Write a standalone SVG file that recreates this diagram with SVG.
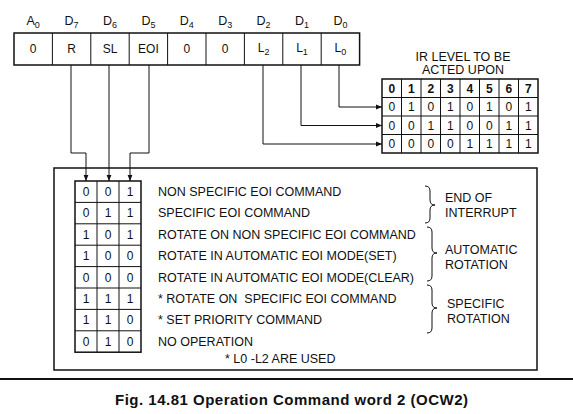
<svg xmlns="http://www.w3.org/2000/svg" width="573" height="414" viewBox="0 0 573 414">
<style>
text{font-family:"Liberation Sans",Arial,sans-serif;fill:#111;}
.lbl{font-size:12.5px;text-anchor:middle;}
.cell{font-size:12px;text-anchor:middle;}
.hd{font-size:12px;text-anchor:middle;font-weight:bold;}
.cmd{font-size:12.5px;}
.grp{font-size:12.5px;}
.box{fill:#fff;stroke:#111;stroke-width:1.5;}
.thin{stroke:#111;stroke-width:1;fill:none;}
.wire{stroke:#111;stroke-width:1;fill:none;}
.brace{stroke:#111;stroke-width:1;fill:none;}
</style>
<defs>
<marker id="arr" viewBox="0 0 10 10" refX="10" refY="5" markerWidth="6" markerHeight="6" orient="auto" markerUnits="userSpaceOnUse">
<path d="M0,1 L10,5 L0,9 Z" fill="#111"/>
</marker>
</defs>
<rect width="573" height="414" fill="#fff"/>

<g id="register">
<rect class="box" x="14" y="33" width="345.6" height="32" stroke-width="2"/>
<g class="thin">
<line x1="52.4" y1="33" x2="52.4" y2="65"/>
<line x1="90.8" y1="33" x2="90.8" y2="65"/>
<line x1="129.2" y1="33" x2="129.2" y2="65"/>
<line x1="167.6" y1="33" x2="167.6" y2="65"/>
<line x1="206" y1="33" x2="206" y2="65"/>
<line x1="244.4" y1="33" x2="244.4" y2="65"/>
<line x1="282.8" y1="33" x2="282.8" y2="65"/>
<line x1="321.2" y1="33" x2="321.2" y2="65"/>
</g>
<text class="lbl" x="33.2" y="25">A<tspan dy="3" font-size="9">0</tspan></text>
<text class="lbl" x="71.6" y="25">D<tspan dy="3" font-size="9">7</tspan></text>
<text class="lbl" x="110" y="25">D<tspan dy="3" font-size="9">6</tspan></text>
<text class="lbl" x="148.4" y="25">D<tspan dy="3" font-size="9">5</tspan></text>
<text class="lbl" x="186.8" y="25">D<tspan dy="3" font-size="9">4</tspan></text>
<text class="lbl" x="225.2" y="25">D<tspan dy="3" font-size="9">3</tspan></text>
<text class="lbl" x="263.6" y="25">D<tspan dy="3" font-size="9">2</tspan></text>
<text class="lbl" x="302" y="25">D<tspan dy="3" font-size="9">1</tspan></text>
<text class="lbl" x="340.4" y="25">D<tspan dy="3" font-size="9">0</tspan></text>
<text class="cell" x="33.2" y="53">0</text>
<text class="cell" x="71.6" y="53">R</text>
<text class="cell" x="110" y="53">SL</text>
<text class="cell" x="148.4" y="53">EOI</text>
<text class="cell" x="186.8" y="53">0</text>
<text class="cell" x="225.2" y="53">0</text>
<text class="cell" x="263.6" y="52">L<tspan dy="3" font-size="9">2</tspan></text>
<text class="cell" x="302" y="52">L<tspan dy="3" font-size="9">1</tspan></text>
<text class="cell" x="340.4" y="52">L<tspan dy="3" font-size="9">0</tspan></text>
</g>

<g id="ir-table">
<text class="lbl" x="463" y="61">IR LEVEL TO BE</text>
<text class="lbl" x="463" y="74">ACTED UPON</text>
<rect class="box" x="382" y="79" width="156" height="74" stroke-width="2"/>
<g class="thin">
<line x1="382" y1="97.5" x2="538" y2="97.5"/>
<line x1="382" y1="116" x2="538" y2="116"/>
<line x1="382" y1="134.5" x2="538" y2="134.5"/>
<line x1="401.5" y1="79" x2="401.5" y2="153"/>
<line x1="421" y1="79" x2="421" y2="153"/>
<line x1="440.5" y1="79" x2="440.5" y2="153"/>
<line x1="460" y1="79" x2="460" y2="153"/>
<line x1="479.5" y1="79" x2="479.5" y2="153"/>
<line x1="499" y1="79" x2="499" y2="153"/>
<line x1="518.5" y1="79" x2="518.5" y2="153"/>
</g>
<g class="hd">
<text x="391.75" y="92.5">0</text><text x="411.25" y="92.5">1</text><text x="430.75" y="92.5">2</text><text x="450.25" y="92.5">3</text><text x="469.75" y="92.5">4</text><text x="489.25" y="92.5">5</text><text x="508.75" y="92.5">6</text><text x="528.25" y="92.5">7</text>
</g>
<g class="cell">
<text x="391.75" y="111">0</text><text x="411.25" y="111">1</text><text x="430.75" y="111">0</text><text x="450.25" y="111">1</text><text x="469.75" y="111">0</text><text x="489.25" y="111">1</text><text x="508.75" y="111">0</text><text x="528.25" y="111">1</text>
<text x="391.75" y="129.5">0</text><text x="411.25" y="129.5">0</text><text x="430.75" y="129.5">1</text><text x="450.25" y="129.5">1</text><text x="469.75" y="129.5">0</text><text x="489.25" y="129.5">0</text><text x="508.75" y="129.5">1</text><text x="528.25" y="129.5">1</text>
<text x="391.75" y="148">0</text><text x="411.25" y="148">0</text><text x="430.75" y="148">0</text><text x="450.25" y="148">0</text><text x="469.75" y="148">1</text><text x="489.25" y="148">1</text><text x="508.75" y="148">1</text><text x="528.25" y="148">1</text>
</g>
</g>

<g id="command-box">
<rect class="box" x="54" y="168" width="483" height="202" stroke-width="1.3"/>
<rect class="box" x="75" y="181" width="66" height="171.2" stroke-width="2"/>
<g class="thin">
<line x1="97" y1="181" x2="97" y2="352.2"/>
<line x1="119" y1="181" x2="119" y2="352.2"/>
<line x1="75" y1="202.4" x2="141" y2="202.4"/>
<line x1="75" y1="223.8" x2="141" y2="223.8"/>
<line x1="75" y1="245.2" x2="141" y2="245.2"/>
<line x1="75" y1="266.6" x2="141" y2="266.6"/>
<line x1="75" y1="288" x2="141" y2="288"/>
<line x1="75" y1="309.4" x2="141" y2="309.4"/>
<line x1="75" y1="330.8" x2="141" y2="330.8"/>
</g>
<g class="cell">
<text x="86" y="196">0</text><text x="108" y="196">0</text><text x="130" y="196">1</text>
<text x="86" y="217.4">0</text><text x="108" y="217.4">1</text><text x="130" y="217.4">1</text>
<text x="86" y="238.8">1</text><text x="108" y="238.8">0</text><text x="130" y="238.8">1</text>
<text x="86" y="260.2">1</text><text x="108" y="260.2">0</text><text x="130" y="260.2">0</text>
<text x="86" y="281.6">0</text><text x="108" y="281.6">0</text><text x="130" y="281.6">0</text>
<text x="86" y="303">1</text><text x="108" y="303">1</text><text x="130" y="303">1</text>
<text x="86" y="324.4">1</text><text x="108" y="324.4">1</text><text x="130" y="324.4">0</text>
<text x="86" y="345.8">0</text><text x="108" y="345.8">1</text><text x="130" y="345.8">0</text>
</g>
<g class="cmd">
<text x="158" y="196">NON SPECIFIC EOI COMMAND</text>
<text x="158" y="217.4">SPECIFIC EOI COMMAND</text>
<text x="158" y="238.8">ROTATE ON NON SPECIFIC EOI COMMAND</text>
<text x="158" y="260.2">ROTATE IN AUTOMATIC EOI MODE(SET)</text>
<text x="158" y="281.6">ROTATE IN AUTOMATIC EOI MODE(CLEAR)</text>
<text x="158" y="303" xml:space="preserve" style="white-space:pre">* ROTATE ON  SPECIFIC EOI COMMAND</text>
<text x="158" y="324.4">* SET PRIORITY COMMAND</text>
<text x="158" y="345.8">NO OPERATION</text>
</g>
<g class="brace">
<path d="M425,186 Q430,186 430,191 L430,200 Q430,205 435,205 Q430,205 430,210 L430,218 Q430,223 425,223"/>
<path d="M427,227 Q432,227 432,232 L432,248 Q432,253 437,253 Q432,253 432,258 L432,276 Q432,281 427,281"/>
<path d="M427,285 Q432,285 432,290 L432,303 Q432,308 437,308 Q432,308 432,313 L432,328 Q432,333 427,333"/>
</g>
<g class="grp">
<text x="445" y="202">END OF</text>
<text x="445" y="217">INTERRUPT</text>
<text x="445" y="254">AUTOMATIC</text>
<text x="445" y="269">ROTATION</text>
<text x="447" y="308">SPECIFIC</text>
<text x="447" y="323">ROTATION</text>
</g>
<text class="cmd" x="225" y="363" font-size="12">* L0 -L2 ARE USED</text>
</g>

<g id="connectors" class="wire">
<path d="M71,65 V153 H86 V181" marker-end="url(#arr)"/>
<path d="M109,65 V181" marker-end="url(#arr)"/>
<path d="M149,65 V153 H130 V181" marker-end="url(#arr)"/>
<path d="M339,65 V107 H382" marker-end="url(#arr)"/>
<path d="M301,65 V125.5 H382" marker-end="url(#arr)"/>
<path d="M263,65 V144 H382" marker-end="url(#arr)"/>
</g>

<g id="caption">
<line x1="0" y1="379" x2="573" y2="379" stroke="#111" stroke-width="2"/>
<text x="291.5" y="405" font-size="15" font-weight="bold" text-anchor="middle" textLength="353" lengthAdjust="spacing">Fig. 14.81 Operation Command word 2 (OCW2)</text>
</g>
</svg>
